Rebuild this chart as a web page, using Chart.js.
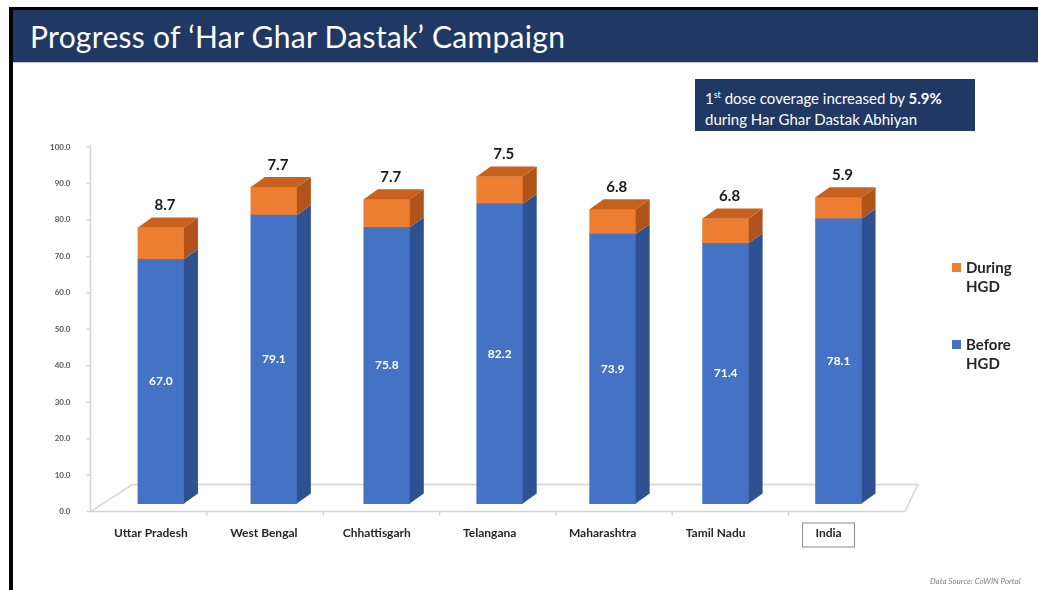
<!DOCTYPE html>
<html>
<head>
<meta charset="utf-8">
<script src="https://cdn.jsdelivr.net/npm/chart.js@4.4.1/dist/chart.umd.min.js"></script>
<style>
  body { margin: 0; width: 1038px; height: 590px; overflow: hidden; background: #fff; font-family: Lato, "Open Sans", sans-serif; }
  #frame { position: absolute; left: 9px; top: 7px; right: 0; bottom: 0; border-left: 4px solid #000; border-top: 3px solid #000; }
  #titlebar { position: absolute; left: 13px; top: 10px; right: 0; height: 52px; background: #203864; border-bottom: 1px solid #b8c3d6; z-index: 2; }
  #titlebar span { position: absolute; left: 17px; top: 8px; color: #fff; font-size: 30px; letter-spacing: 0.3px; }
  #wrap { position: absolute; left: 0; top: 0; width: 1038px; height: 590px; }
  #note { position: absolute; left: 695px; top: 79px; width: 280px; height: 52px; background: #203864; color: #fff; font-size: 15px; line-height: 21px; box-sizing: border-box; padding: 5px 0 0 10px; z-index: 2; }
  #note sup { font-size: 9px; }
  .legend { position: absolute; left: 952px; font-size: 15px; font-weight: bold; color: #262626; line-height: 19px; z-index: 2; }
  .legend i { position: absolute; left: 0; top: 5px; width: 9px; height: 9px; }
  .legend span { display: block; margin-left: 14px; }
  #source { position: absolute; left: 930px; top: 576px; font-size: 8px; font-style: italic; color: #7f7f7f; z-index: 2; }
</style>
</head>
<body>
<div id="frame"></div>
<div id="titlebar"><span>Progress of ‘Har Ghar Dastak’ Campaign</span></div>
<div id="note">1<sup>st</sup> dose coverage increased by <b>5.9%</b><br>during Har Ghar Dastak Abhiyan</div>
<div id="wrap"><canvas id="myChart"></canvas></div>
<div id="legend"></div>
<div id="source">Data Source: CoWIN Portal</div>
<script>
const categories = ['Uttar Pradesh', 'West Bengal', 'Chhattisgarh', 'Telangana', 'Maharashtra', 'Tamil Nadu', 'India'];
const beforeHGD = [67.0, 79.1, 75.8, 82.2, 73.9, 71.4, 78.1];
const duringHGD = [8.7, 7.7, 7.7, 7.5, 6.8, 6.8, 5.9];
const seriesNames = ['Before HGD', 'During HGD'];
const yMin = 0, yMax = 100, yStep = 10;

const COLORS = {
    blue: '#4472C4', blueSide: '#2E5191',
    orange: '#ED7D31', orangeSide: '#B0541C', orangeTop: '#C8601E'
};

// legend (During on top, like the original)
const legend = document.getElementById('legend');
[[1, COLORS.orange, 258], [0, COLORS.blue, 335]].forEach(([i, c, top]) => {
    const words = seriesNames[i].split(' ');
    legend.innerHTML += `<div class="legend" style="top:${top}px"><i style="background:${c}"></i><span>${words[0]}</span><span>${words[1]}</span></div>`;
});

function poly(ctx, pts, color) {
    ctx.beginPath();
    ctx.moveTo(pts[0][0], pts[0][1]);
    pts.slice(1).forEach(p => ctx.lineTo(p[0], p[1]));
    ctx.closePath();
    ctx.fillStyle = color;
    ctx.fill();
}

// floor + axis lines
const floorPlugin = {
    id: 'floor',
    beforeDatasetsDraw(chart) {
        const ctx = chart.ctx;
        const y = chart.scales.y;
        const a = chart.chartArea;
        const bottom = y.getPixelForValue(0);
        const left = a.left - 14, right = a.right + 10;
        ctx.save();
        ctx.strokeStyle = '#d4d4d4';
        ctx.lineWidth = 1.5;
        ctx.beginPath();
        ctx.moveTo(left, y.getPixelForValue(yMax) - 2);
        ctx.lineTo(left, bottom);
        ctx.lineTo(right, bottom);
        ctx.lineTo(right + 13, bottom - 27);
        ctx.lineTo(left + 42, bottom - 27);
        ctx.lineTo(left, bottom);
        y.ticks.forEach(t => {
            const py = y.getPixelForValue(t.value);
            ctx.moveTo(left - 4, py);
            ctx.lineTo(left, py);
        });
        const step = (right - left) / categories.length;
        for (let i = 1; i < categories.length; i++) {
            ctx.moveTo(left + step * i, bottom);
            ctx.lineTo(left + step * i, bottom + 4);
        }
        ctx.stroke();
        ctx.restore();
    },
    afterDraw(chart) {
        // box around the last category label
        const x = chart.scales.x;
        const px = x.getPixelForValue(categories.length - 1) - 10;
        const ctx = chart.ctx;
        ctx.save();
        ctx.strokeStyle = '#8a8a8a';
        ctx.lineWidth = 1;
        ctx.strokeRect(px - 26, 523, 52, 24);
        ctx.restore();
    }
};

// 3D sides, tops and value labels
const bar3d = {
    id: 'bar3d',
    afterDatasetsDraw(chart) {
        const ctx = chart.ctx;
        const dx = 14, dy = 10;
        const m0 = chart.getDatasetMeta(0), m1 = chart.getDatasetMeta(1);
        ctx.save();
        m0.data.forEach((b0, i) => {
            const b1 = m1.data[i];
            const half = b0.width / 2;
            const xl = b0.x - half, xr = b0.x + half;
            poly(ctx, [[xr, b0.y], [xr + dx, b0.y - dy], [xr + dx, b0.base - dy], [xr, b0.base]], COLORS.blueSide);
            poly(ctx, [[xr, b1.y], [xr + dx, b1.y - dy], [xr + dx, b1.base - dy], [xr, b1.base]], COLORS.orangeSide);
            poly(ctx, [[xl, b1.y], [xr, b1.y], [xr + dx, b1.y - dy], [xl + dx, b1.y - dy]], COLORS.orangeTop);

            ctx.textAlign = 'center';
            ctx.textBaseline = 'middle';
            ctx.fillStyle = '#fff';
            ctx.font = 'bold 12px Lato';
            ctx.fillText(beforeHGD[i].toFixed(1), b0.x, (b0.y + b0.base) / 2);
            ctx.fillStyle = '#1a1a1a';
            ctx.font = 'bold 15px Lato';
            ctx.fillText(duringHGD[i].toFixed(1), b1.x + 4, b1.y - dy - 12);
        });
        ctx.restore();
    }
};

new Chart(document.getElementById('myChart'), {
    type: 'bar',
    data: {
        labels: categories,
        datasets: [
            { label: seriesNames[0], data: beforeHGD, backgroundColor: COLORS.blue, yAxisID: 'yBars', barThickness: 46 },
            { label: seriesNames[1], data: duringHGD, backgroundColor: COLORS.orange, yAxisID: 'yBars', barThickness: 46 }
        ]
    },
    options: {
        responsive: true,
        maintainAspectRatio: false,
        animation: false,
        layout: { padding: { left: 16, top: 147, right: 143, bottom: 44 } },
        plugins: { legend: { display: false }, tooltip: { enabled: false } },
        scales: {
            x: {
                stacked: true,
                grid: { display: false },
                border: { display: false },
                ticks: { color: '#262626', font: { family: 'Lato', size: 12, weight: 'bold' }, padding: 6, labelOffset: -10, maxRotation: 0 }
            },
            y: {
                min: yMin, max: yMax,
                grid: { display: false, drawTicks: false },
                border: { display: false },
                ticks: { stepSize: yStep, padding: 34, color: '#595959', font: { family: 'Lato', size: 8, weight: 'bold' }, callback: v => v.toFixed(1) }
            },
            yBars: {
                stacked: true, display: false,
                min: yMin - 2.2, max: yMax - 2.2
            }
        }
    },
    plugins: [floorPlugin, bar3d]
});
</script>
</body>
</html>
